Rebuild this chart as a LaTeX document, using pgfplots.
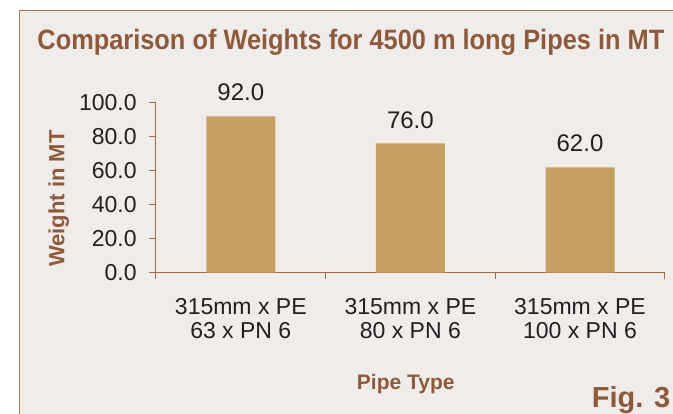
\documentclass[border=0pt]{standalone}
\usepackage{pgfplots}
\pgfplotsset{compat=1.18}
\usepackage{fontspec}
\setmainfont{Liberation Sans}
\newfontfamily\condfont[FakeStretch=0.906]{Liberation Sans}
\definecolor{bgc}{HTML}{F0ECE9}
\definecolor{brownt}{HTML}{8E5A3B}
\definecolor{barc}{HTML}{C4A064}
\definecolor{axc}{HTML}{A06A4A}
\definecolor{framec}{HTML}{A87A5E}
\definecolor{txt}{HTML}{231F20}
\begin{document}
\begin{tikzpicture}
\path[use as bounding box] (0,0) rectangle (673pt,-414pt);
\fill[white] (0,0) rectangle (673pt,-414pt);
\fill[bgc] (19.3pt,-10.7pt) rectangle (690pt,-430pt);
\draw[framec, line width=1pt] (19.3pt,-430pt) -- (19.3pt,-10.7pt) -- (690pt,-10.7pt);
\node[anchor=base west, inner sep=0pt, text=brownt, font=\condfont\bfseries\fontsize{28}{30}\selectfont] at (37.3pt,-50pt) {Comparison of Weights for 4500 m long Pipes in MT};
\node[anchor=base west, inner sep=0pt, text=brownt, font=\bfseries\fontsize{29}{30}\selectfont] at (591.7pt,-407.3pt) {Fig. 3};
\node[rotate=90, anchor=base, inner sep=0pt, text=brownt, font=\bfseries\fontsize{22}{24}\selectfont] at (64.3pt,-198.5pt) {Weight in MT};
\node[anchor=base, inner sep=0pt, text=brownt, font=\bfseries\fontsize{21}{24}\selectfont] at (405.8pt,-389.8pt) {Pipe Type};
\begin{axis}[
  at={(156pt,-272.7pt)}, anchor=south west,
  scale only axis, width=508.8pt, height=170pt,
  xmin=-0.5, xmax=2.5, ymin=0, ymax=100,
  axis x line*=bottom, axis y line*=left,
  axis line style={draw=axc, line width=1pt},
  tick align=outside, major tick length=6.5pt,
  tick style={draw=axc, line width=1pt},
  /pgf/number format/.cd, fixed, fixed zerofill, precision=1, assume math mode=true, /pgfplots/.cd,
  ytick={0,20,40,60,80,100},
  yticklabel style={anchor=east, inner sep=0pt, xshift=-12.7pt, text=txt, font=\fontsize{23}{23.5}\selectfont},
  xtick={-0.5,0.5,1.5,2.5},
  x tick label as interval,
  xticklabels={{315mm x PE\\63 x PN 6},{315mm x PE\\80 x PN 6},{315mm x PE\\100 x PN 6}},
  xticklabel style={align=center, anchor=north, inner sep=0pt, yshift=-19.5pt, text=txt, font=\fontsize{23}{23.5}\selectfont},
  ybar, bar width=69pt,
  nodes near coords,
  every node near coord/.append style={anchor=south, inner sep=0pt, yshift=15pt, text=txt, font=\fontsize{24}{24}\selectfont},
  clip=false,
]
\addplot[fill=barc, draw=none] coordinates {(0,92) (1,76) (2,62)};
\end{axis}
\end{tikzpicture}
\end{document}
